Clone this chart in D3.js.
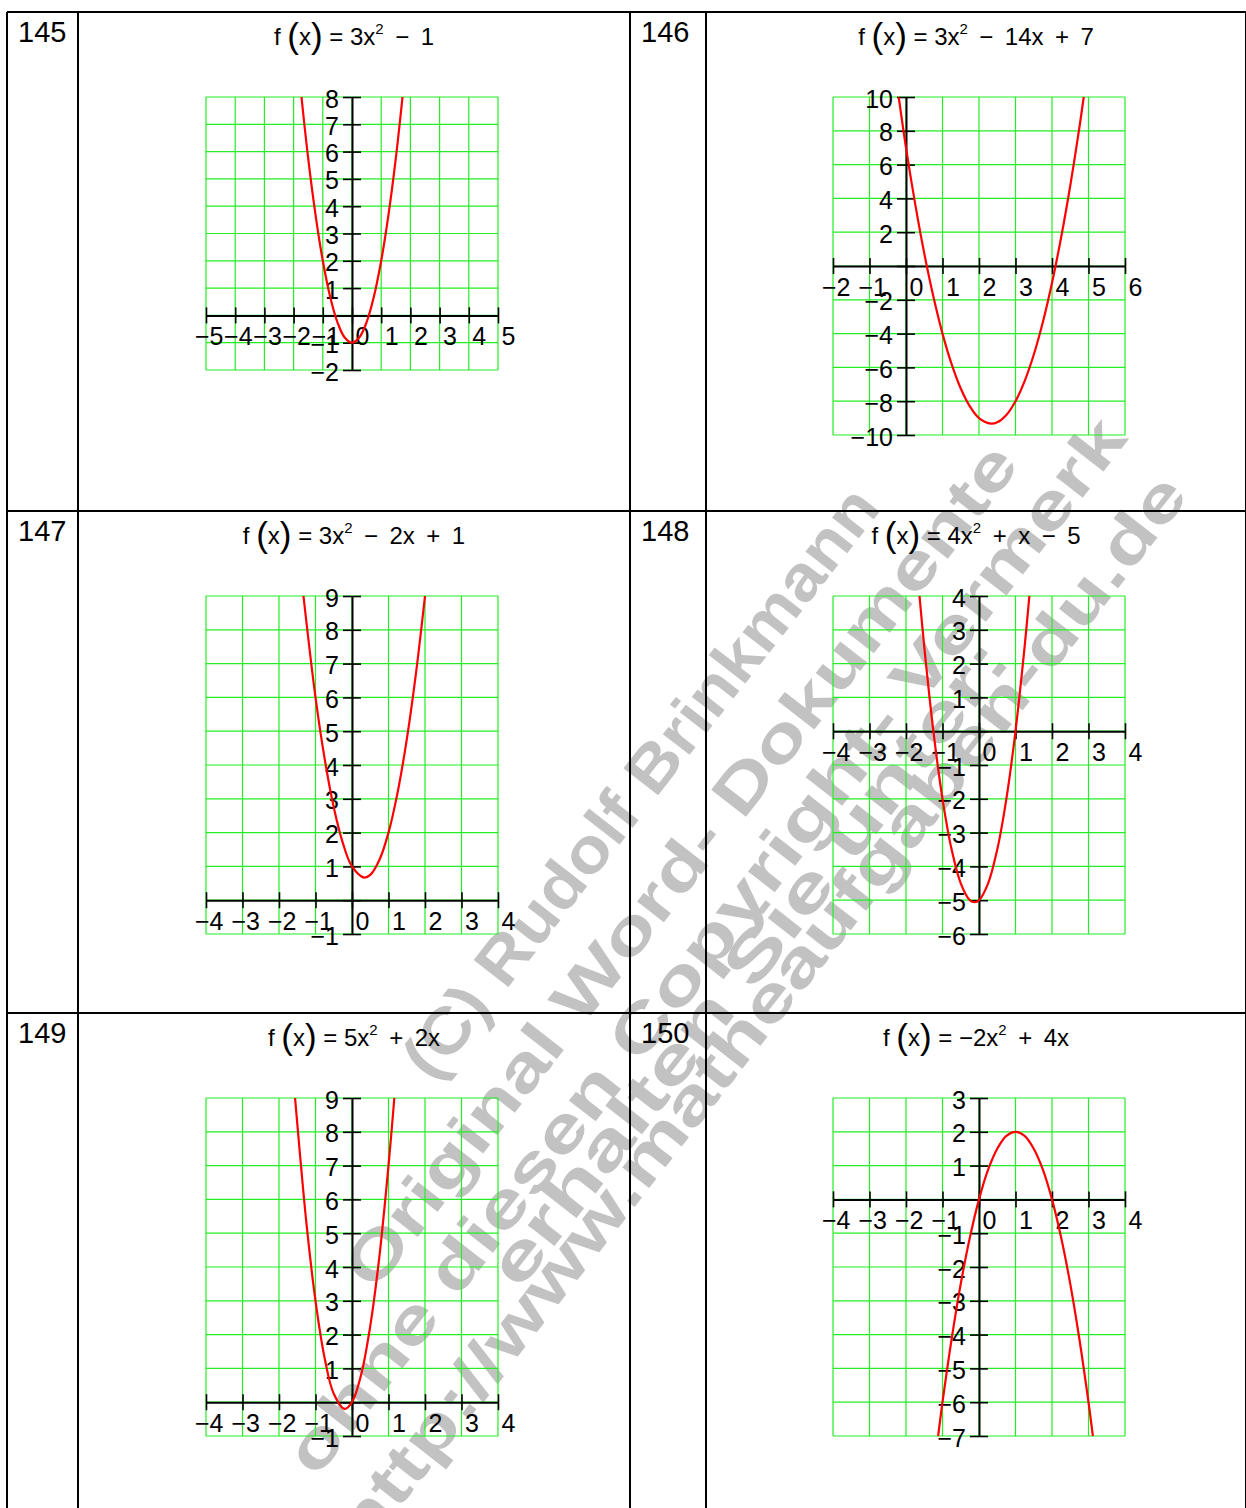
<!DOCTYPE html>
<html>
<head>
<meta charset="utf-8">
<script src="https://cdn.jsdelivr.net/npm/d3@7"></script>
<style>
  body { margin: 0; background: #fff; }
  svg { display: block; }
  text { font-family: Arial, "Liberation Sans", sans-serif; }
</style>
</head>
<body>
<script>
// exercise numbers and right-hand sides of f(x)
const numbers = ["145", "146", "147", "148", "149", "150"];
const rhs = ["3x^2 − 1", "3x^2 − 14x + 7", "3x^2 − 2x + 1", "4x^2 + x − 5", "5x^2 + 2x", "−2x^2 + 4x"];

// axis ranges
const xDomains = [[-5, 5], [-2, 6], [-4, 4], [-4, 4], [-4, 4], [-4, 4]];
const yDomains = [[-2, 8], [-10, 10], [-1, 9], [-6, 4], [-1, 9], [-7, 3]];
const yTickSteps = [1, 2, 1, 1, 1, 1];

// points
const x145 = [-1.73, -1.5, -1.25, -1, -0.75, -0.5, -0.25, 0, 0.25, 0.5, 0.75, 1, 1.25, 1.5, 1.73];
const y145 = [8, 5.75, 3.69, 2, 0.69, -0.25, -0.81, -1, -0.81, -0.25, 0.69, 2, 3.69, 5.75, 8];

const x146 = [-0.2, 0, 0.25, 0.5, 0.75, 1, 1.25, 1.5, 1.75, 2, 2.33, 2.5, 2.75, 3, 3.25, 3.5, 3.75, 4, 4.25, 4.5, 4.75, 4.87];
const y146 = [10, 7, 3.69, 0.75, -1.81, -4, -5.81, -7.25, -8.31, -9, -9.33, -9.25, -8.81, -8, -6.81, -5.25, -3.31, -1, 1.69, 4.75, 8.19, 10];

const x147 = [-1.33, -1, -0.75, -0.5, -0.25, 0, 0.33, 0.5, 0.75, 1, 1.25, 1.5, 1.75, 2];
const y147 = [9, 6, 4.19, 2.75, 1.69, 1, 0.67, 0.75, 1.19, 2, 3.19, 4.75, 6.69, 9];

const x148 = [-1.63, -1.5, -1.25, -1, -0.75, -0.5, -0.25, -0.12, 0, 0.25, 0.5, 0.75, 1, 1.25, 1.38];
const y148 = [4, 2.5, 0, -2, -3.5, -4.5, -5, -5.06, -5, -4.5, -3.5, -2, 0, 2.5, 4];

const x149 = [-1.56, -1.5, -1.25, -1, -0.75, -0.5, -0.2, 0, 0.25, 0.5, 0.75, 1, 1.16];
const y149 = [9, 8.25, 5.31, 3, 1.31, 0.25, -0.2, 0, 0.81, 2.25, 4.31, 7, 9];

const x150 = [-1.12, -1, -0.75, -0.5, -0.25, 0, 0.25, 0.5, 0.75, 1, 1.25, 1.5, 1.75, 2, 2.25, 2.5, 2.75, 3, 3.12];
const y150 = [-7, -6, -4.13, -2.5, -1.13, 0, 0.88, 1.5, 1.88, 2, 1.88, 1.5, 0.88, 0, -1.13, -2.5, -4.13, -6, -7];

const curveX = [x145, x146, x147, x148, x149, x150];
const curveY = [y145, y146, y147, y148, y149, y150];

// watermark lines
const watermark = [
  "(C) Rudolf Brinkmann",
  "Original Word- Dokumente",
  "ohne diesen Copyright- Vermerk",
  "erhalten Sie unter:",
  "http://www.matheaufgaben-du.de"
];

const W = 1246, H = 1508;
const colX = [7, 78, 630, 706, 1246];
const rowY = [12, 511, 1013, 1600];
const fs = 25; // tick label size
const minus = s => String(s).replace("-", "−");

const svg = d3.select("body").append("svg")
  .attr("width", W).attr("height", H);

// watermark behind everything
const wm = svg.append("g").attr("fill", "#c2c2c2")
  .attr("font-weight", "bold").attr("font-size", 64);
const wmPos = [[640, 782, 730], [680, 865, 1050], [705, 945, 1320], [748, 962, 800], [760, 1010, 1340]];
watermark.forEach((t, i) => {
  wm.append("text")
    .attr("transform", "translate(" + wmPos[i][0] + "," + wmPos[i][1] + ") rotate(-52)")
    .attr("text-anchor", "middle")
    .attr("dy", "0.35em")
    .attr("textLength", wmPos[i][2])
    .attr("lengthAdjust", "spacingAndGlyphs")
    .text(t);
});

// table borders
const table = svg.append("g").attr("stroke", "#000").attr("stroke-width", 2);
colX.forEach(x => table.append("line").attr("x1", x).attr("x2", x).attr("y1", rowY[0]).attr("y2", H + 5));
rowY.slice(0, 3).forEach(y => table.append("line").attr("x1", colX[0]).attr("x2", W + 5).attr("y1", y).attr("y2", y));

numbers.forEach((num, i) => {
  const col = i % 2, row = Math.floor(i / 2);
  const top = rowY[row];
  const cx = col ? (colX[3] + colX[4]) / 2 : (colX[1] + colX[2]) / 2;

  // exercise number
  svg.append("text")
    .attr("x", col ? colX[2] + 11 : colX[0] + 11)
    .attr("y", top + 30)
    .attr("font-size", 29)
    .text(num);

  // title f(x) = ...
  const title = svg.append("text")
    .attr("x", cx).attr("y", top + 33)
    .attr("text-anchor", "middle")
    .attr("font-size", 24);
  title.append("tspan").text("f ");
  title.append("tspan").attr("font-size", 35).attr("dy", 3).text("(");
  title.append("tspan").attr("dy", -3).text("x");
  title.append("tspan").attr("font-size", 35).attr("dy", 3).text(")");
  const parts = rhs[i].split("^2");
  title.append("tspan").attr("dy", -3).text(" = " + parts[0]);
  title.append("tspan").attr("font-size", 15).attr("dy", -11).text("2");
  title.append("tspan").attr("dy", 11).text(parts[1].replace(/ /g, "\u2009 "));

  // plot area
  const left = col ? 833 : 206;
  const ptop = top + 85;
  const pw = 292, ph = i === 0 ? 273 : 338;
  const xd = xDomains[i], yd = yDomains[i], step = yTickSteps[i];

  const x = d3.scaleLinear().domain(xd).range([left, left + pw]);
  const y = d3.scaleLinear().domain(yd).range([ptop + ph, ptop]);
  const xt = d3.range(xd[0], xd[1] + 0.5, 1);
  const yt = d3.range(yd[0], yd[1] + step / 2, step);

  const g = svg.append("g");

  // green grid
  const grid = g.append("g").attr("stroke", "#22ee22").attr("stroke-width", 1.2);
  grid.selectAll("line.v").data(xt).join("line").attr("class", "v")
    .attr("x1", d => x(d)).attr("x2", d => x(d)).attr("y1", ptop).attr("y2", ptop + ph);
  grid.selectAll("line.h").data(yt).join("line").attr("class", "h")
    .attr("y1", d => y(d)).attr("y2", d => y(d)).attr("x1", left).attr("x2", left + pw);

  // x axis
  const xa = g.append("g")
    .attr("transform", "translate(0," + y(0) + ")")
    .call(d3.axisBottom(x).tickValues(xt).tickSizeOuter(0).tickFormat(minus));
  xa.select(".domain").attr("stroke-width", 2);
  xa.selectAll(".tick line").attr("y1", -8).attr("y2", 8).attr("stroke-width", 1.6);
  xa.selectAll(".tick text")
    .attr("font-size", fs).attr("font-family", "Arial, 'Liberation Sans', sans-serif")
    .attr("fill", "#000")
    .attr("text-anchor", "start")
    .attr("x", d => 3 - (d < 0 ? 0.584 * fs : 0))
    .attr("y", 12).attr("dy", "0.71em");

  // y axis
  const ya = g.append("g")
    .attr("transform", "translate(" + x(0) + ",0)")
    .call(d3.axisLeft(y).tickValues(yt).tickSizeOuter(0)
      .tickFormat(d => d === 0 ? "" : minus(d)));
  ya.select(".domain").attr("stroke-width", 2);
  ya.selectAll(".tick line").attr("x1", 9).attr("x2", -9).attr("stroke-width", 1.6);
  ya.selectAll(".tick text")
    .attr("font-size", fs).attr("font-family", "Arial, 'Liberation Sans', sans-serif")
    .attr("fill", "#000")
    .attr("x", -13).attr("dy", "0.40em");

  // red curve
  const clipId = "clip" + num;
  g.append("clipPath").attr("id", clipId).append("rect")
    .attr("x", left - 2).attr("y", ptop - 2).attr("width", pw + 4).attr("height", ph + 4);
  const pts = curveX[i].map((v, k) => [v, curveY[i][k]]);
  g.append("path")
    .attr("clip-path", "url(#" + clipId + ")")
    .attr("fill", "none").attr("stroke", "#ff0000").attr("stroke-width", 2.2)
    .attr("d", d3.line().x(d => x(d[0])).y(d => y(d[1])).curve(d3.curveCatmullRom)(pts));
});
</script>
</body>
</html>
